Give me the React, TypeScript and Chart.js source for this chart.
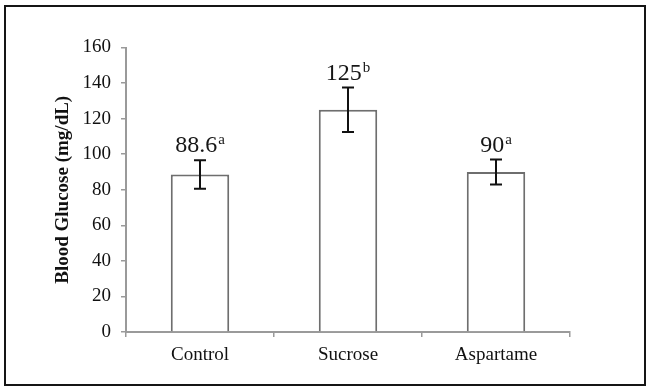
import React, { useEffect, useRef } from "react";
import { Chart, registerables } from "chart.js";

Chart.register(...registerables);

const categories = ["Control", "Sucrose", "Aspartame"];
const glucose = [88.6, 125, 90];
const errors = [8, 12.5, 7];
const valueLabels = ["88.6", "125", "90"];
const superscripts = ["a", "b", "a"];
const yTitle = "Blood Glucose (mg/dL)";

const SERIF = "'Liberation Serif', 'Times New Roman', serif";

const errorBarPlugin = {
  id: "errorBars",
  afterDatasetsDraw(chart: any) {
    const ctx = chart.ctx;
    const meta = chart.getDatasetMeta(0);
    const yScale = chart.scales.y;
    ctx.save();
    meta.data.forEach((bar: any, i: number) => {
      const x = bar.x;
      const v = glucose[i];
      const e = errors[i];
      const yTop = yScale.getPixelForValue(v + e);
      const yBot = yScale.getPixelForValue(v - e);
      ctx.strokeStyle = "#111";
      ctx.lineWidth = 2;
      ctx.beginPath();
      ctx.moveTo(x, yTop);
      ctx.lineTo(x, yBot);
      ctx.moveTo(x - 6, yTop);
      ctx.lineTo(x + 6, yTop);
      ctx.moveTo(x - 6, yBot);
      ctx.lineTo(x + 6, yBot);
      ctx.stroke();

      // value label with superscript
      const mainFont = `24px ${SERIF}`;
      const supFont = `15px ${SERIF}`;
      ctx.font = mainFont;
      const wMain = ctx.measureText(valueLabels[i]).width;
      ctx.font = supFont;
      const wSup = ctx.measureText(superscripts[i]).width;
      const total = wMain + 1 + wSup;
      const startX = x - total / 2;
      const baseline = yTop - 8;
      ctx.fillStyle = "#161616";
      ctx.textAlign = "left";
      ctx.textBaseline = "alphabetic";
      ctx.font = mainFont;
      ctx.fillText(valueLabels[i], startX, baseline);
      ctx.font = supFont;
      ctx.fillText(superscripts[i], startX + wMain + 1, baseline - 8);
    });
    ctx.restore();
  },
};

export default function App() {
  const ref = useRef<HTMLCanvasElement>(null);

  useEffect(() => {
    if (!ref.current) return;
    const chart = new Chart(ref.current, {
      type: "bar",
      data: {
        labels: categories,
        datasets: [
          {
            data: glucose,
            backgroundColor: "#ffffff",
            borderColor: "#6e6e6e",
            borderWidth: 2,
            borderSkipped: "start",
            barPercentage: 0.395,
            categoryPercentage: 1,
          },
        ],
      },
      options: {
        responsive: false,
        animation: false,
        devicePixelRatio: 1,
        layout: { padding: { top: 47.5, right: 76, bottom: 0, left: 0 } },
        plugins: {
          legend: { display: false },
          tooltip: { enabled: false },
        },
        scales: {
          x: {
            afterFit(scale: any) {
              scale.height = 55;
            },
            grid: {
              display: true,
              drawOnChartArea: false,
              drawTicks: true,
              tickLength: 5,
              color: "#9a9a9a",
              lineWidth: 1.5,
              offset: true,
            },
            border: { display: true, color: "#9a9a9a", width: 2 },
            ticks: {
              font: { family: SERIF, size: 19 },
              color: "#111",
              padding: 7,
            },
          },
          y: {
            min: 0,
            max: 160,
            afterFit(scale: any) {
              scale.width = 126;
            },
            ticks: {
              stepSize: 20,
              font: { family: SERIF, size: 19 },
              color: "#111",
              padding: 10,
            },
            grid: {
              display: true,
              drawOnChartArea: false,
              drawTicks: true,
              tickLength: 5,
              color: "#9a9a9a",
              lineWidth: 1.5,
            },
            border: { display: true, color: "#9a9a9a", width: 2 },
            title: {
              display: true,
              text: yTitle,
              color: "#111",
              font: { family: SERIF, size: 19, weight: "bold" },
              padding: { top: 52, bottom: 0 },
            },
          },
        },
      },
      plugins: [errorBarPlugin],
    });
    return () => chart.destroy();
  }, []);

  return (
    <div
      style={{
        position: "fixed",
        left: 0,
        top: 0,
        width: 646,
        height: 387,
        background: "#fff",
      }}
    >
      <canvas
        ref={ref}
        width={646}
        height={387}
        style={{ position: "absolute", left: 0, top: 0, width: 646, height: 387 }}
      />
      <div
        style={{
          position: "absolute",
          left: 4,
          top: 5,
          width: 638,
          height: 377,
          border: "2px solid #151515",
          pointerEvents: "none",
        }}
      />
    </div>
  );
}
